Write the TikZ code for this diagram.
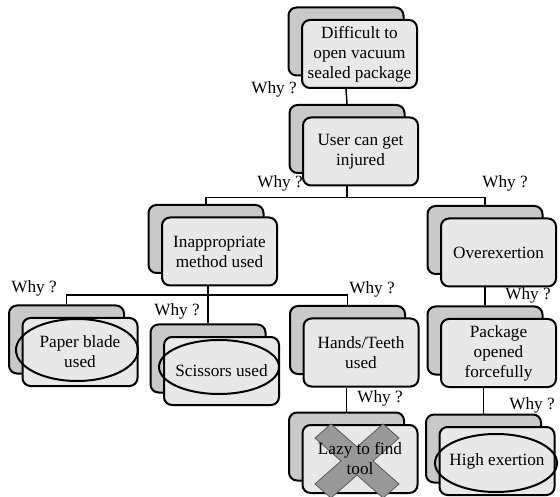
\documentclass[tikz,border=0pt]{standalone}
\usepackage{fontspec}
\setmainfont{Liberation Serif}
\usetikzlibrary{shapes.geometric,calc}
\begin{document}
\begin{tikzpicture}[x=1pt,y=-1pt,
  every node/.style={font=\fontsize{17.2}{20}\selectfont},
  front/.style={draw, line width=2pt, rounded corners=8pt, fill=black!9,
    minimum width=115pt, minimum height=68pt, align=center, inner sep=0pt},
  back/.style={front, fill=black!21},
  why/.style={inner sep=0pt},
  conn/.style={line width=1.5pt},
  oval/.style={draw, ellipse, line width=2pt, inner sep=0pt},
  xmark/.style={fill=black!40, draw=black!65, line width=0.8pt}
]
\useasboundingbox (0,0) rectangle (560,497);

% level 1
\node[back]  (n1b) at (346,41.5) {};
\node[front] (n1)  at (359.5,54) {Difficult to\\open vacuum\\sealed package};
% level 2
\node[back]  (n2b) at (347,139) {};
\node[front] (n2)  at (360.5,151.5) {User can get\\injured};
% level 3
\node[back]  (n3b) at (206,239) {};
\node[front] (n3)  at (219.5,251.5) {Inappropriate\\method used};
\node[back]  (n4b) at (485,240) {};
\node[front] (n4)  at (498.5,252.5) {Overexertion};
% level 4
\node[back]  (n5b) at (66.5,339.5) {};
\node[front] (n5)  at (80,352) {Paper blade\\used};
\node[back]  (n6b) at (208,358.5) {};
\node[front] (n6)  at (221.5,371) {Scissors used};
\node[back]  (n7b) at (347.5,340) {};
\node[front] (n7)  at (361,352.5) {Hands/Teeth\\used};
\node[back]  (n8b) at (485,340.5) {};
\node[front] (n8)  at (498.5,353) {Package\\opened\\forcefully};
% level 5
\node[back]  (n9b) at (346.5,446.5) {};
\node[front] (n9)  at (360,459) {};
\begin{scope}[shift={(357,461)}, x=42pt, y=-37pt]
  \draw[xmark] (-1,-0.62) -- (-0.62,-1) -- (0,-0.38) -- (0.62,-1) -- (1,-0.62)
    -- (0.38,0) -- (1,0.62) -- (0.62,1) -- (0,0.38) -- (-0.62,1) -- (-1,0.62)
    -- (-0.38,0) -- cycle;
\end{scope}
\node[align=center, inner sep=0pt] (t9) at (n9.center) {Lazy to find\\tool};
\node[back]  (n10b) at (483.5,448.5) {};
\node[front] (n10)  at (497,461) {High exertion};

% ellipses
\node[oval, minimum width=122pt, minimum height=62pt] (e5) at (77,350) {};
\node[oval, minimum width=120pt, minimum height=54pt] (e6) at (219,367) {};
\node[oval, minimum width=122pt, minimum height=58pt] (e10) at (496,463) {};

% connectors
\draw[conn] (n1b.north |- n1.south) -- (n2b.north);
\coordinate (j1) at ($(n2b.north |- n2.south)+(0,11)$);
\draw[conn] (n2b.north |- n2.south) -- (j1);
\draw[conn] (n3b.north) |- (j1) -| (n4b.north);
\coordinate (j2) at ($(n6b.north |- n3.south)+(0,8.5)$);
\draw[conn] (n6b.north |- n3.south) -- (n6b.north);
\draw[conn] (n5b.north) |- (j2) -| (n7b.north);
\draw[conn] (n9b.north |- n7.south) -- (n9b.north);
\draw[conn] (n8b.north |- n4.south) -- (n8b.north);
\draw[conn] (n10b.north |- n8.south) -- (n10b.north);

% labels
\node[why] (w1) at (274,89) {Why ?};
\node[why] (w2) at (280,183) {Why ?};
\node[why] (w3) at (505,183) {Why ?};
\node[why] (w4) at (34,288) {Why ?};
\node[why] (w5) at (177,311) {Why ?};
\node[why] (w6) at (372,289) {Why ?};
\node[why] (w7) at (380,398) {Why ?};
\node[why] (w8) at (528,295) {Why ?};
\node[why] (w9) at (532,405) {Why ?};
\end{tikzpicture}
\end{document}
